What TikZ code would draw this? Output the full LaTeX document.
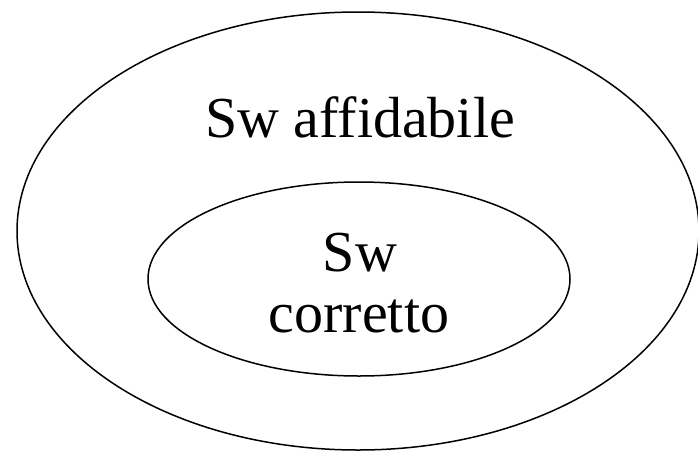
\documentclass[tikz,border=0pt]{standalone}
\usepackage{fontspec}
\newfontfamily\timesfont{Liberation Serif}
\begin{document}
\begin{tikzpicture}[x=1pt,y=1pt,
  ring/.style={draw=black,line width=1.5pt},
  label/.style={font=\timesfont\fontsize{58}{64}\selectfont,inner sep=0pt,anchor=base}]
\useasboundingbox (0,0) rectangle (698,-453);
\draw[ring] (358,-231) ellipse [x radius=341,y radius=219];
\draw[ring] (359,-279) ellipse [x radius=211,y radius=97];
\node[label] (outer) at (360,-137) {Sw affidabile};
\node[label] (sw) at (360,-271) {Sw};
\node[label] (corr) at (359,-332) {corretto};
\end{tikzpicture}
\end{document}
